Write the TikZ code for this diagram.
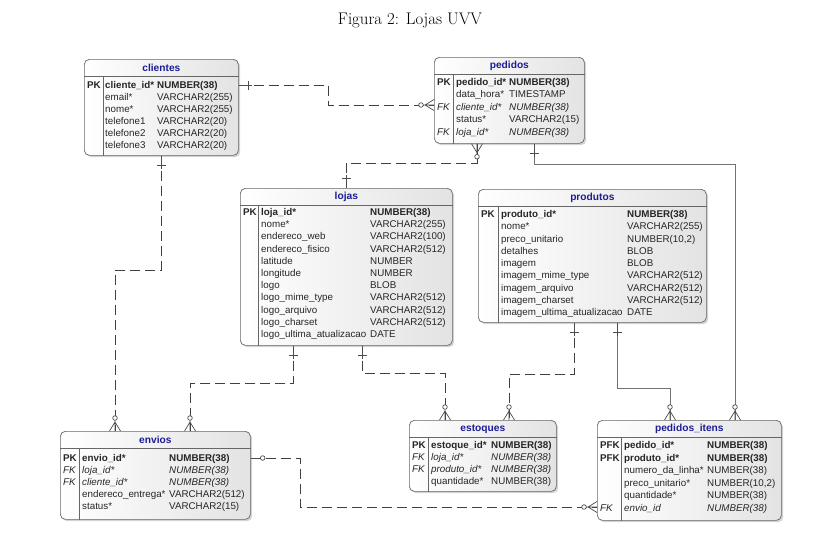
\documentclass[tikz,border=0pt]{standalone}
\usepackage{fontspec}
\setsansfont{Liberation Sans}
\usepackage{xcolor}
\usepackage{tikz}
\usetikzlibrary{calc, positioning, arrows.meta, shadows}
\definecolor{erdblue}{RGB}{28,28,150}
\tikzset{
    erd/.style={
        x=1pt, y=-1pt,
        tablebox/.style={draw=black!60, line width=0.7pt, rounded corners=5pt, left color=white, right color=black!11, drop shadow={shadow xshift=1.8pt, shadow yshift=-1.8pt, opacity=0.35}, anchor=north west, inner sep=0pt},
        tabletitle/.style={font=\sffamily\bfseries\fontsize{10.2}{12}\selectfont, text=erdblue, inner sep=0pt},
        tableline/.style={draw=black!60, line width=0.6pt},
        rowtext/.style={anchor=base west, inner sep=0pt, font=\sffamily\fontsize{9.8}{11}\selectfont, text=black!85},
        relline/.style={black!55, line width=0.7pt},
        optline/.style={black!75, line width=0.7pt, dash pattern=on 10pt off 5pt},
        one/.pic={\draw[solid, black!70, line width=0.7pt] (0,0) -- (13,0) (10,-4.5) -- (10,4.5);},
        many/.pic={\draw[solid, black!70, line width=0.7pt] (0,-5.5) -- (9,0) -- (0,5.5) (0,0) -- (10.7,0);
                   \draw[solid, black!70, line width=0.7pt, fill=white] (13,0) circle (2.3pt);},
        opt/.pic={\draw[solid, black!70, line width=0.7pt] (0,0) -- (9.7,0);
                  \draw[solid, black!70, line width=0.7pt, fill=white] (12,0) circle (2.3pt);}
    }
}

\begin{document}
\begin{tikzpicture}[erd]
    \useasboundingbox (0,0) rectangle (819,542);

    \node[font=\fontsize{16.8}{19}\selectfont] (caption) at (410,20) {Figura 2: Lojas UVV};

    % clientes
    \node[tablebox, minimum width=154, minimum height=96] (clientes) at (84,59) {};
    \draw[tableline] ([yshift=-17pt]clientes.north west) -- ([yshift=-17pt]clientes.north east);
    \draw[tableline] ([shift={(19pt,-17pt)}]clientes.north west) -- ([xshift=19pt]clientes.south west);
    \node[tabletitle] (clientes-title) at ([yshift=-9pt]clientes.north) {clientes};
    \foreach \f/\k/\n/\t [count=\i from 0] in {
        \bfseries/PK/cliente\_id*/NUMBER(38),
        {}/{}/email*/VARCHAR2(255),
        {}/{}/nome*/VARCHAR2(255),
        {}/{}/telefone1/VARCHAR2(20),
        {}/{}/telefone2/VARCHAR2(20),
        {}/{}/telefone3/VARCHAR2(20)} {
        \node[rowtext] (clientes-k\i) at (87,{88.5+12*\i}) {\f\k};
        \node[rowtext] (clientes-n\i) at (105,{88.5+12*\i}) {\f\n};
        \node[rowtext] (clientes-t\i) at (157,{88.5+12*\i}) {\f\t};
    }

    % pedidos
    \node[tablebox, minimum width=150, minimum height=86] (pedidos) at (434,57) {};
    \draw[tableline] ([yshift=-17pt]pedidos.north west) -- ([yshift=-17pt]pedidos.north east);
    \draw[tableline] ([shift={(19pt,-17pt)}]pedidos.north west) -- ([xshift=19pt]pedidos.south west);
    \node[tabletitle] (pedidos-title) at ([yshift=-9pt]pedidos.north) {pedidos};
    \foreach \f/\k/\n/\t [count=\i from 0] in {
        \bfseries/PK/pedido\_id*/NUMBER(38),
        {}/{}/data\_hora*/TIMESTAMP,
        \itshape/FK/cliente\_id*/NUMBER(38),
        {}/{}/status*/VARCHAR2(15),
        \itshape/FK/loja\_id*/NUMBER(38)} {
        \node[rowtext] (pedidos-k\i) at (437,{85.5+12.4*\i}) {\f\k};
        \node[rowtext] (pedidos-n\i) at (456,{85.5+12.4*\i}) {\f\n};
        \node[rowtext] (pedidos-t\i) at (509,{85.5+12.4*\i}) {\f\t};
    }

    % lojas
    \node[tablebox, minimum width=212, minimum height=157] (lojas) at (240,188) {};
    \draw[tableline] ([yshift=-17pt]lojas.north west) -- ([yshift=-17pt]lojas.north east);
    \draw[tableline] ([shift={(18pt,-17pt)}]lojas.north west) -- ([xshift=18pt]lojas.south west);
    \node[tabletitle] (lojas-title) at ([yshift=-9pt]lojas.north) {lojas};
    \foreach \f/\k/\n/\t [count=\i from 0] in {
        \bfseries/PK/loja\_id*/NUMBER(38),
        {}/{}/nome*/VARCHAR2(255),
        {}/{}/endereco\_web/VARCHAR2(100),
        {}/{}/endereco\_fisico/VARCHAR2(512),
        {}/{}/latitude/NUMBER,
        {}/{}/longitude/NUMBER,
        {}/{}/logo/BLOB,
        {}/{}/logo\_mime\_type/VARCHAR2(512),
        {}/{}/logo\_arquivo/VARCHAR2(512),
        {}/{}/logo\_charset/VARCHAR2(512),
        {}/{}/logo\_ultima\_atualizacao/DATE} {
        \node[rowtext] (lojas-k\i) at (243,{215.5+12.2*\i}) {\f\k};
        \node[rowtext] (lojas-n\i) at (261,{215.5+12.2*\i}) {\f\n};
        \node[rowtext] (lojas-t\i) at (370,{215.5+12.2*\i}) {\f\t};
    }

    % produtos
    \node[tablebox, minimum width=228, minimum height=133] (produtos) at (478,189) {};
    \draw[tableline] ([yshift=-17pt]produtos.north west) -- ([yshift=-17pt]produtos.north east);
    \draw[tableline] ([shift={(20pt,-17pt)}]produtos.north west) -- ([xshift=20pt]produtos.south west);
    \node[tabletitle] (produtos-title) at ([yshift=-9pt]produtos.north) {produtos};
    \foreach \f/\k/\n/\t [count=\i from 0] in {
        \bfseries/PK/produto\_id*/NUMBER(38),
        {}/{}/nome*/VARCHAR2(255),
        {}/{}/preco\_unitario/{NUMBER(10,2)},
        {}/{}/detalhes/BLOB,
        {}/{}/imagem/BLOB,
        {}/{}/imagem\_mime\_type/VARCHAR2(512),
        {}/{}/imagem\_arquivo/VARCHAR2(512),
        {}/{}/imagem\_charset/VARCHAR2(512),
        {}/{}/imagem\_ultima\_atualizacao/DATE} {
        \node[rowtext] (produtos-k\i) at (481,{217.5+12.25*\i}) {\f\k};
        \node[rowtext] (produtos-n\i) at (501,{217.5+12.25*\i}) {\f\n};
        \node[rowtext] (produtos-t\i) at (627,{217.5+12.25*\i}) {\f\t};
    }

    % envios
    \node[tablebox, minimum width=190, minimum height=88] (envios) at (60,431) {};
    \draw[tableline] ([yshift=-17pt]envios.north west) -- ([yshift=-17pt]envios.north east);
    \draw[tableline] ([shift={(19pt,-17pt)}]envios.north west) -- ([xshift=19pt]envios.south west);
    \node[tabletitle] (envios-title) at ([yshift=-9pt]envios.north) {envios};
    \foreach \f/\k/\n/\t [count=\i from 0] in {
        \bfseries/PK/envio\_id*/NUMBER(38),
        \itshape/FK/loja\_id*/NUMBER(38),
        \itshape/FK/cliente\_id*/NUMBER(38),
        {}/{}/endereco\_entrega*/VARCHAR2(512),
        {}/{}/status*/VARCHAR2(15)} {
        \node[rowtext] (envios-k\i) at (63,{461.5+12*\i}) {\f\k};
        \node[rowtext] (envios-n\i) at (82,{461.5+12*\i}) {\f\n};
        \node[rowtext] (envios-t\i) at (169,{461.5+12*\i}) {\f\t};
    }

    % estoques
    \node[tablebox, minimum width=147, minimum height=71] (estoques) at (409,420) {};
    \draw[tableline] ([yshift=-17pt]estoques.north west) -- ([yshift=-17pt]estoques.north east);
    \draw[tableline] ([shift={(19pt,-17pt)}]estoques.north west) -- ([xshift=19pt]estoques.south west);
    \node[tabletitle] (estoques-title) at ([yshift=-9pt]estoques.north) {estoques};
    \foreach \f/\k/\n/\t [count=\i from 0] in {
        \bfseries/PK/estoque\_id*/NUMBER(38),
        \itshape/FK/loja\_id*/NUMBER(38),
        \itshape/FK/produto\_id*/NUMBER(38),
        {}/{}/quantidade*/NUMBER(38)} {
        \node[rowtext] (estoques-k\i) at (412,{448.5+12*\i}) {\f\k};
        \node[rowtext] (estoques-n\i) at (431,{448.5+12*\i}) {\f\n};
        \node[rowtext] (estoques-t\i) at (491,{448.5+12*\i}) {\f\t};
    }

    % pedidos_itens
    \node[tablebox, minimum width=184, minimum height=100] (pedidos_itens) at (597,420) {};
    \draw[tableline] ([yshift=-17pt]pedidos_itens.north west) -- ([yshift=-17pt]pedidos_itens.north east);
    \draw[tableline] ([shift={(24pt,-17pt)}]pedidos_itens.north west) -- ([xshift=24pt]pedidos_itens.south west);
    \node[tabletitle] (pedidos_itens-title) at ([yshift=-9pt]pedidos_itens.north) {pedidos\_itens};
    \foreach \f/\k/\n/\t [count=\i from 0] in {
        \bfseries/PFK/pedido\_id*/NUMBER(38),
        \bfseries/PFK/produto\_id*/NUMBER(38),
        {}/{}/numero\_da\_linha*/NUMBER(38),
        {}/{}/preco\_unitario*/{NUMBER(10,2)},
        {}/{}/quantidade*/NUMBER(38),
        \itshape/FK/envio\_id/NUMBER(38)} {
        \node[rowtext] (pedidos_itens-k\i) at (600,{448.5+12.5*\i}) {\f\k};
        \node[rowtext] (pedidos_itens-n\i) at (624,{448.5+12.5*\i}) {\f\n};
        \node[rowtext] (pedidos_itens-t\i) at (707,{448.5+12.5*\i}) {\f\t};
    }

    % clientes -- pedidos
    \draw[optline] (clientes.east |- 0,85) -- (328,85) |- (pedidos.west |- 0,105);
    \pic at (clientes.east |- 0,85) {one};
    \pic[rotate=180] at (pedidos.west |- 0,105) {many};

    % pedidos -- lojas
    \draw[optline] (pedidos.south -| 477,0) -- (477,163) -| (lojas.north -| 346,0);
    \pic[rotate=-90] at (pedidos.south -| 477,0) {many};
    \pic[rotate=90] at (lojas.north -| 346,0) {one};

    % pedidos -- pedidos_itens
    \draw[relline] (pedidos.south -| 534,0) -- (534,164) -| (pedidos_itens.north -| 735,0);
    \pic[rotate=-90] at (pedidos.south -| 534,0) {one};
    \pic[rotate=90] at (pedidos_itens.north -| 735,0) {many};

    % produtos -- pedidos_itens
    \draw[relline] (produtos.south -| 617,0) -- (617,388) -| (pedidos_itens.north -| 670,0);
    \pic[rotate=-90] at (produtos.south -| 617,0) {one};
    \pic[rotate=90] at (pedidos_itens.north -| 670,0) {many};

    % produtos -- estoques
    \draw[optline] (produtos.south -| 574,0) -- (574,374) -| (estoques.north -| 509,0);
    \pic[rotate=-90] at (produtos.south -| 574,0) {one};
    \pic[rotate=90] at (estoques.north -| 509,0) {many};

    % lojas -- estoques
    \draw[optline] (lojas.south -| 362,0) -- (362,373) -| (estoques.north -| 445,0);
    \pic[rotate=-90] at (lojas.south -| 362,0) {one};
    \pic[rotate=90] at (estoques.north -| 445,0) {many};

    % lojas -- envios
    \draw[optline] (lojas.south -| 293,0) -- (293,383) -| (envios.north -| 190,0);
    \pic[rotate=-90] at (lojas.south -| 293,0) {one};
    \pic[rotate=90] at (envios.north -| 190,0) {many};

    % clientes -- envios
    \draw[optline] (clientes.south -| 161,0) -- (161,270) -| (envios.north -| 115,0);
    \pic[rotate=-90] at (clientes.south -| 161,0) {one};
    \pic[rotate=90] at (envios.north -| 115,0) {many};

    % envios -- pedidos_itens
    \draw[optline] (envios.east |- 0,458) -- (300,458) |- (pedidos_itens.west |- 0,507);
    \pic at (envios.east |- 0,458) {opt};
    \pic[rotate=180] at (pedidos_itens.west |- 0,507) {many};
\end{tikzpicture}
\end{document}
